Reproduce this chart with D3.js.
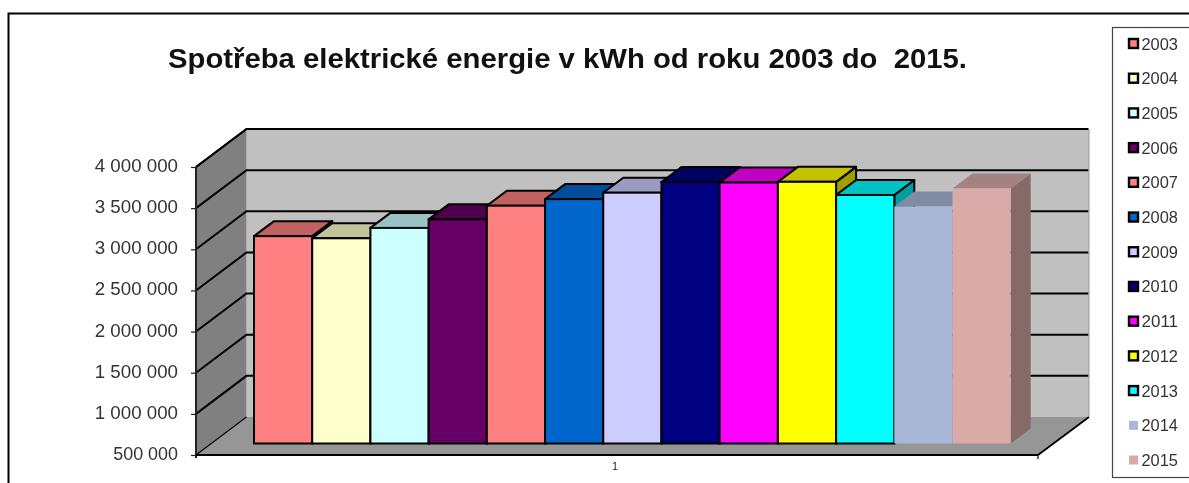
<!DOCTYPE html>
<html><head><meta charset="utf-8">
<script src="https://cdn.jsdelivr.net/npm/d3@7/dist/d3.min.js"></script>
<style>html,body{margin:0;padding:0;background:#fff}svg{display:block;filter:blur(0.45px)}text{font-family:"Liberation Sans",Arial,sans-serif;fill:#111}</style>
</head><body><div id="chart"></div>
<script>
const years = ["2003","2004","2005","2006","2007","2008","2009","2010","2011","2012","2013","2014","2015"];
const consumption = [3020000,2994000,3120000,3224000,3390000,3470000,3548000,3678000,3672000,3680000,3520000,3380000,3600000];
const barColors = ["#FF8080","#FFFFCC","#CCFFFF","#660066","#FF8080","#0066CC","#CCCCFF","#000080","#FF00FF","#FFFF00","#00FFFF","#A9B8D6","#D8ABA8"];
const outlined = [true,true,true,true,true,true,true,true,true,true,true,false,false];
const yTicks = [500000,1000000,1500000,2000000,2500000,3000000,3500000,4000000];
const tickLabels = ["500 000","1 000 000","1 500 000","2 000 000","2 500 000","3 000 000","3 500 000","4 000 000"];
const categoryLabels = ["1"];
const titleText = "Spotřeba elektrické energie v kWh od roku 2003 do  2015.";

const W=1189,H=483;
const svg=d3.select("#chart").append("svg").attr("width",W).attr("height",H);
const pts=a=>a.map(p=>p.join(",")).join(" ");
const y=d3.scaleLinear().domain([500000,4000000]).range([455,167]);
const x0=196,x1=1038,depthX=50.5,depthY=38;
const bar=d3.scaleBand().domain(years).range([254,1010.7]);
const barBaseShift=-11.5, barDX=20, barDY=15;

// frame
svg.append("path").attr("d",`M8.5,${H} V13.5 H${W}`).attr("fill","none").attr("stroke","#000").attr("stroke-width",2);

// title
svg.append("text").attr("x",168).attr("y",68).attr("font-size",28).attr("font-weight","bold")
  .attr("textLength",799).attr("lengthAdjust","spacingAndGlyphs").style("white-space","pre").text(titleText);

// back wall, side wall, floor
svg.append("polygon").attr("points",pts([[x0+depthX,y(4000000)-depthY],[x1+depthX+0.5,y(4000000)-depthY],[x1+depthX+0.5,y(500000)-depthY],[x0+depthX,y(500000)-depthY]])).attr("fill","#C0C0C0");
svg.append("polygon").attr("points",pts([[x0,y(4000000)],[x0+depthX,y(4000000)-depthY],[x0+depthX,y(500000)-depthY],[x0,y(500000)]])).attr("fill","#808080");
svg.append("polygon").attr("points",pts([[x0,y(500000)],[x0+depthX,y(500000)-depthY],[x1+depthX+0.5,y(500000)-depthY],[x1,y(500000)]])).attr("fill","#969696");

// gridlines
const grid=svg.append("g").attr("fill","none").attr("stroke","#000").attr("stroke-width",2);
yTicks.forEach(v=>{
  const yy=y(v);
  if(v>500000) grid.append("polyline").attr("points",pts([[x0,yy],[x0+depthX,yy-depthY],[x1+depthX,yy-depthY]]));
  else grid.append("polyline").attr("points",pts([[x0,yy],[x0+depthX,yy-depthY]])).attr("stroke-width",1.2);
});
svg.append("line").attr("x1",x1).attr("y1",y(500000)).attr("x2",x1+depthX+0.5).attr("y2",y(500000)-depthY).attr("stroke","#000").attr("stroke-width",1.8);
svg.append("line").attr("x1",x0+depthX).attr("y1",y(4000000)-depthY).attr("x2",x0).attr("y2",y(4000000)).attr("stroke","#000").attr("stroke-width",1.8);
svg.append("path").attr("d",`M${x1+depthX+0.5},${y(4000000)-depthY}V${y(500000)-depthY}`).attr("stroke","#999").attr("stroke-width",1);

// y axis
svg.append("line").attr("x1",x0).attr("x2",x0).attr("y1",y(4000000)).attr("y2",y(500000)+3).attr("stroke","#222").attr("stroke-width",2);
const yAxis=d3.axisLeft(y).tickValues(yTicks).tickFormat((d,i)=>tickLabels[i]).tickSize(5).tickPadding(13);
const gy=svg.append("g").attr("transform",`translate(${x0},0)`).call(yAxis);
gy.select(".domain").remove();
gy.selectAll("line").attr("stroke","#222").attr("stroke-width",1.2);
gy.selectAll("text").attr("font-size",18).attr("dy","0.25em").style("font-family",'"Liberation Sans",Arial,sans-serif').style("fill","#333").attr("textLength",(d,i)=>tickLabels[i].length*9.25).attr("lengthAdjust","spacingAndGlyphs");

// x axis
svg.append("line").attr("x1",x0).attr("x2",x1).attr("y1",y(500000)).attr("y2",y(500000)).attr("stroke","#000").attr("stroke-width",2);
svg.append("line").attr("x1",x1).attr("x2",x1).attr("y1",y(500000)).attr("y2",y(500000)+4).attr("stroke","#000").attr("stroke-width",1.2);
svg.selectAll(".cat").data(categoryLabels).join("text").attr("class","cat").attr("x",(x0+x1)/2-2).attr("y",470).attr("font-size",10).attr("text-anchor","middle").text(d=>d);

// bars
const shade=(c,k)=>{const r=d3.rgb(c);return d3.rgb(r.r*k,r.g*k,r.b*k).formatHex();};
svg.append("g").selectAll("g").data(years).join("g").each(function(yr,i){
  const g=d3.select(this), xa=bar(yr), w=bar.bandwidth(), xb=xa+w;
  const top=y(consumption[i])+barBaseShift, base=y(500000)+barBaseShift;
  const c=barColors[i], st=outlined[i]?"#000":"none", sw=outlined[i]?2:0;
  g.append("polygon").attr("points",pts([[xb,top],[xb+barDX,top-barDY],[xb+barDX,base-barDY],[xb,base]])).attr("fill",shade(c,0.62)).attr("stroke",st).attr("stroke-width",sw).attr("stroke-linejoin","round");
  g.append("polygon").attr("points",pts([[xa,top],[xa+barDX,top-barDY],[xb+barDX,top-barDY],[xb,top]])).attr("fill",shade(c,0.76)).attr("stroke",st).attr("stroke-width",sw).attr("stroke-linejoin","round");
  g.append("rect").attr("x",xa).attr("y",top).attr("width",w).attr("height",base-top).attr("fill",c).attr("stroke",st).attr("stroke-width",sw);
});

// legend
svg.append("rect").attr("x",1112.5).attr("y",27.5).attr("width",90).attr("height",450).attr("fill","#fff").attr("stroke","#444").attr("stroke-width",1.2);
const ly=d3.scalePoint().domain(years).range([43.5,460]);
const lg=svg.append("g").selectAll("g").data(years).join("g").attr("transform",d=>`translate(0,${ly(d)})`);
lg.append("rect").attr("x",1129).attr("y",-4.5).attr("width",9).attr("height",9)
  .attr("fill",(d,i)=>barColors[i]).attr("stroke",(d,i)=>outlined[i]?"#000":"none").attr("stroke-width",2.4);
lg.append("text").attr("x",1141.5).attr("y",6).attr("font-size",17).style("fill","#333").attr("textLength",36.5).attr("lengthAdjust","spacingAndGlyphs").text(d=>d);
</script></body></html>
